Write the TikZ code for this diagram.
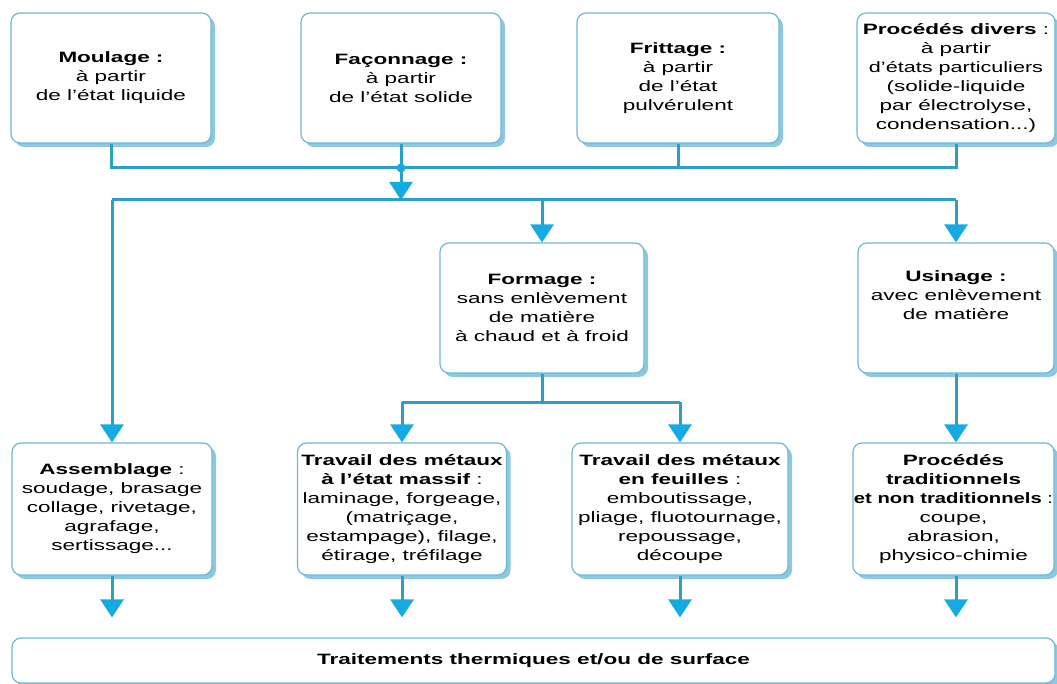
\documentclass[tikz,border=0pt]{standalone}
\usepackage{fontspec}
\setmainfont{Liberation Sans}[FakeStretch=1.5]
\usetikzlibrary{arrows.meta,shadows}
\definecolor{linecol}{RGB}{45,158,200}
\definecolor{arrcol}{RGB}{22,170,226}
\definecolor{boxcol}{RGB}{110,185,210}
\definecolor{shadcol}{RGB}{140,200,226}
\tikzset{
  box/.style={draw=boxcol, line width=1.2pt, rounded corners=9pt, fill=white,
    align=center, font=\fontsize{15}{19}\selectfont, inner sep=1pt,
    drop shadow={shadow xshift=4pt, shadow yshift=-4pt, fill=shadcol, opacity=1}},
  conn/.style={draw=linecol, line width=3pt},
  arr/.style={conn, -{Triangle[width=23pt,length=18pt,fill=arrcol,color=arrcol]}},
}
\begin{document}
\begin{tikzpicture}[x=1pt,y=-1pt]
\useasboundingbox[fill=white] (0,0) rectangle (1057,684);
% top row
\node[box, minimum width=200, minimum height=130] (moul) at (111,78)
  {\textbf{Moulage :}\\à partir\\de l'état liquide};
\node[box, minimum width=200, minimum height=130] (facon) at (401,78)
  {\textbf{Façonnage :}\\à partir\\de l'état solide};
\node[box, minimum width=202, minimum height=130] (fritt) at (678,78)
  {\textbf{Frittage :}\\à partir\\de l'état\\pulvérulent};
\node[box, minimum width=198, minimum height=130] (divers) at (956,78)
  {\textbf{Procédés divers} :\\à partir\\\scalebox{0.96}[1]{d'états particuliers}\\(solide-liquide\\par électrolyse,\\condensation...)};
% second row
\node[box, minimum width=204, minimum height=130] (form) at (542,308)
  {\textbf{Formage :}\\sans enlèvement\\de matière\\à chaud et à froid};
\node[box, minimum width=196, minimum height=130] (usin) at (956,308)
  {\textbf{Usinage :}\\avec enlèvement\\de matière\\[6pt]};
% third row
\node[box, minimum width=200, minimum height=132] (assem) at (112,509)
  {\textbf{Assemblage} :\\soudage, brasage\\collage, rivetage,\\agrafage,\\sertissage...};
\node[box, minimum width=209, minimum height=132] (massif) at (402,509)
  {\textbf{Travail des métaux}\\\textbf{à l'état massif} :\\laminage, forgeage,\\(matriçage,\\estampage), filage,\\étirage, tréfilage};
\node[box, minimum width=216, minimum height=132] (feuil) at (680,509)
  {\textbf{Travail des métaux}\\\textbf{en feuilles} :\\emboutissage,\\pliage, fluotournage,\\repoussage,\\découpe};
\node[box, minimum width=201, minimum height=132] (trad) at (953.5,509)
  {\textbf{Procédés}\\\textbf{traditionnels}\\\scalebox{0.9}[1]{\textbf{et non traditionnels} :}\\coupe,\\abrasion,\\physico-chimie};
% bottom
\node[box, minimum width=1043, minimum height=45] (bot) at (533.5,660.5)
  {\textbf{Traitements thermiques et/ou de surface}};
% junctions
\coordinate (j1) at (401,168);
\coordinate (j2) at (401,200);
\coordinate (j3) at (542,402);
% top bus
\draw[conn] (moul.south) |- (divers.south |- j1) -- (divers.south);
\draw[conn] (facon.south) -- (j1);
\draw[conn] (fritt.south) -- (fritt.south |- j1);
\draw[arr] (j1) -- (j2);
\fill[arrcol] (j1) circle (4.5pt);
% second bus
\draw[conn] (assem.north |- j2) -- (usin.north |- j2);
\draw[arr] (assem.north |- j2) -- (assem.north);
\draw[arr] (form.north |- j2) -- (form.north);
\draw[arr] (usin.north |- j2) -- (usin.north);
% formage split
\draw[conn] (form.south) -- (j3);
\draw[conn] (massif.north |- j3) -- (feuil.north |- j3);
\draw[arr] (massif.north |- j3) -- (massif.north);
\draw[arr] (feuil.north |- j3) -- (feuil.north);
\draw[arr] (usin.south) -- (usin.south |- trad.north);
% to bottom
\draw[arr, shorten >=20pt] (assem.south) -- (assem.south |- bot.north);
\draw[arr, shorten >=20pt] (massif.south) -- (massif.south |- bot.north);
\draw[arr, shorten >=20pt] (feuil.south) -- (feuil.south |- bot.north);
\draw[arr, shorten >=20pt] (usin.south |- trad.south) -- (usin.south |- bot.north);
\end{tikzpicture}
\end{document}
